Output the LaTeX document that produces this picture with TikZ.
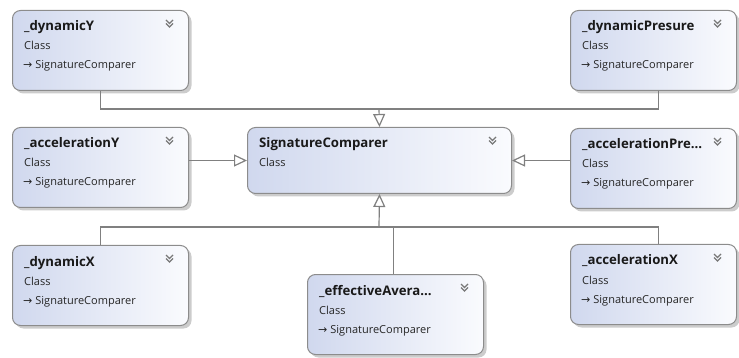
\documentclass[tikz,border=0pt]{standalone}
\usepackage{fontspec}
\setmainfont{Open Sans}
\newfontfamily\arrowfont{DejaVu Sans}
\usetikzlibrary{shadows,arrows.meta}
\definecolor{boxborder}{RGB}{140,140,140}
\definecolor{linegray}{RGB}{128,128,128}
\definecolor{boxblue}{RGB}{208,216,238}
\definecolor{boxwhite}{RGB}{250,251,254}
\definecolor{chevcol}{RGB}{120,120,120}
\tikzset{
  classbox/.style={draw=boxborder, line width=1pt, rounded corners=8pt,
    left color=boxblue, right color=boxwhite, anchor=north west, inner sep=0pt,
    drop shadow={shadow xshift=3pt, shadow yshift=-3pt, fill=black!40, opacity=0.5}},
  ttl/.style={anchor=base west, inner sep=0pt, font=\bfseries\fontsize{13.2}{15}\selectfont, text=black!90},
  sub/.style={anchor=base west, inner sep=0pt, font=\fontsize{11}{12}\selectfont, text=black!85},
  conn/.style={draw=linegray, line width=1.2pt},
  inh/.style={conn, -{Triangle[open, length=13pt, width=12pt, fill=white]}},
  chevron/.style={draw=chevcol, line width=1.3pt},
}
\newcommand{\mkclass}[6]{%
  \node[classbox, minimum width=#4pt, minimum height=#5pt] (#1) at (#2,#3) {};
  \node[ttl] (#1-t) at ([shift={(12,21)}]#1.north west) {#6};
  \node[sub] (#1-c) at ([shift={(12,40)}]#1.north west) {Class};
  \draw[chevron] ([shift={(-23,10)}]#1.north east) -- ++(3.5,3.5) -- ++(3.5,-3.5);
  \draw[chevron] ([shift={(-23,13.5)}]#1.north east) -- ++(3.5,3.5) -- ++(3.5,-3.5);
}
\newcommand{\mkbase}[1]{%
  \node[sub] (#1-s) at ([shift={(11,59)}]#1.north west) {{\arrowfont\fontsize{11}{12}\selectfont →}\hspace{3pt}SignatureComparer};
}
\begin{document}
\begin{tikzpicture}[x=1pt,y=-1pt]
  \useasboundingbox (0,0) rectangle (739,358);
  \mkclass{dy}{12}{10}{176}{80}{\_dynamicY}\mkbase{dy}
  \mkclass{dp}{570}{10}{166}{80}{\_dynamicPresure}\mkbase{dp}
  \mkclass{ay}{12}{127}{176}{80}{\_accelerationY}\mkbase{ay}
  \mkclass{sc}{247}{127}{264}{66}{SignatureComparer}
  \mkclass{ap}{570}{128}{166}{80}{\_accelerationPre…}\mkbase{ap}
  \mkclass{dx}{12}{245}{176}{80}{\_dynamicX}\mkbase{dx}
  \mkclass{ef}{307}{274}{176}{80}{\_effectiveAvera…}\mkbase{ef}
  \mkclass{ax}{570}{244}{166}{80}{\_accelerationX}\mkbase{ax}

  \coordinate (jt) at (379,109);
  \draw[conn] (dy.south) |- (jt);
  \draw[conn] ([xshift=5pt]dp.south) |- (jt);
  \draw[inh] (jt) -- (sc.north);
  \draw[inh] (ay.east |- sc.west) -- (sc.west);
  \draw[inh] (ap.west |- sc.east) -- (sc.east);
  \coordinate (jb) at (379,227);
  \draw[inh] (jb) -- (sc.south);
  \draw[conn] (dx.north) |- (jb);
  \draw[conn] ([xshift=5pt]ax.north) |- (jb);
  \draw[conn] ([xshift=-2pt]ef.north) -- ([xshift=-2pt]ef.north |- jb);
\end{tikzpicture}
\end{document}
